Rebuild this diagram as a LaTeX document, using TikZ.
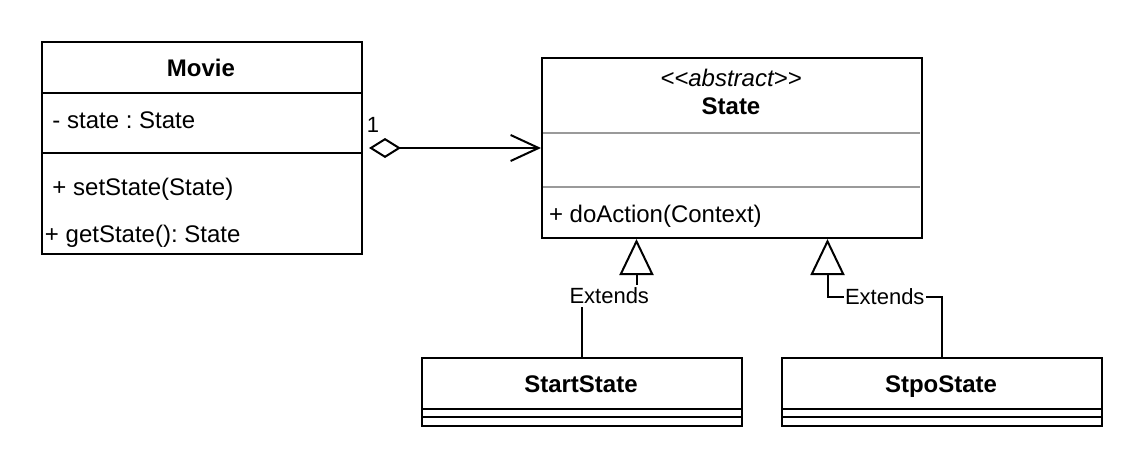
\documentclass[tikz,border=0pt]{standalone}
\usepackage{fontspec}
\setmainfont{Liberation Sans}
\usetikzlibrary{arrows.meta,calc}
\definecolor{abu}{HTML}{9A9A9A}
\frenchspacing
\begin{document}
\begin{tikzpicture}[x=0.5pt,y=-0.5pt,line width=1pt,
      kelas/.style={draw,rectangle,inner sep=0pt,anchor=north west},
      judul/.style={inner sep=0pt,anchor=base,font=\fontsize{12}{14}\selectfont\bfseries},
      anggota/.style={inner sep=0pt,anchor=base west,font=\fontsize{12}{14}\selectfont},
      ket/.style={fill=white,inner xsep=0.5pt,inner ysep=1.5pt,font=\fontsize{11}{13}\selectfont},
      warisan/.style={-{Triangle[open,length=18pt,width=17pt]}},
      agregasi/.style={{Diamond[open,length=16pt,width=10pt]}-{Straight Barb[length=14pt,width=13pt]}}]
    \useasboundingbox (0,0) rectangle (1142,466);
    % Kelas Movie
    \node[kelas,minimum width=160pt,minimum height=106pt] (movie) at (41,41) {};
    \draw (41,93) -- (361,93) (41,153) -- (361,153);
    \node[judul] (movieJ) at (201,76) {Movie};
    \node[anggota] (movieA) at (51.5,128) {- state : State};
    \node[anggota] (movieM1) at (51.5,195) {+ setState(State)};
    \node[anggota] (movieM2) at (44,242) {+ getState(): State};
    % Kelas abstrak State
    \draw[abu] (541,133) -- (920,133) (541,187) -- (920,187);
    \node[kelas,minimum width=190pt,minimum height=90pt] (state) at (541,57) {};
    \node[judul,font=\fontsize{12}{14}\selectfont\itshape] (stateS) at (731,86) {<{}<abstract>{}>};
    \node[judul] (stateJ) at (731,114) {State};
    \node[anggota] (stateM) at (548,222) {+ doAction(Context)};
    % Kelas turunan
    \node[kelas,minimum width=160pt,minimum height=34pt] (start) at (421,357) {};
    \draw (421,409) -- (741,409) (421,417) -- (741,417);
    \node[judul] (startJ) at (581,392) {StartState};
    \node[kelas,minimum width=160pt,minimum height=34pt] (stop) at (781,357) {};
    \draw (781,409) -- (1101,409) (781,417) -- (1101,417);
    \node[judul] (stopJ) at (941,392) {StpoState};
    % Relasi
    \draw[agregasi,shorten <=3pt] (movie.east) -- (state.west);
    \node[font=\fontsize{11}{13}\selectfont] (satu) at (373,125) {1};
    \draw[warisan] (start.north) -- ++(0,-61)
      -| node[ket,pos=0.25] (ext1) {Extends} ($(state.south west)!0.25!(state.south east)$);
    \draw[warisan] (stop.north) -- ++(0,-60)
      -| node[ket,pos=0.25] (ext2) {Extends} ($(state.south west)!0.75!(state.south east)$);
  \end{tikzpicture}
\end{document}
